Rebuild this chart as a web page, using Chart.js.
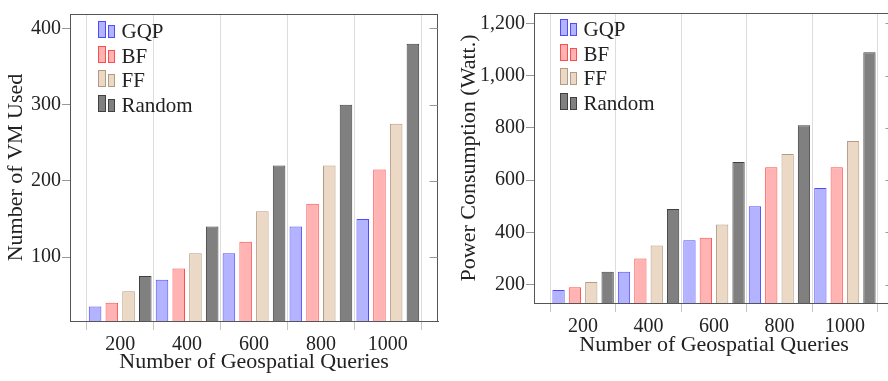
<!DOCTYPE html>
<html>
<head>
<meta charset="utf-8">
<script src="https://cdn.jsdelivr.net/npm/chart.js@4"></script>
<style>
  html, body { margin: 0; padding: 0; background: #fff; overflow: hidden; }
  #wrap { position: relative; width: 888px; height: 381px; overflow: hidden; }
  .box { position: absolute; top: 0; height: 381px; }
</style>
</head>
<body>
<div id="wrap">
  <div class="box" style="left:0;width:444px"><canvas id="vmChart"></canvas></div>
  <div class="box" style="left:444px;width:456px"><canvas id="powerChart"></canvas></div>
</div>
<script>
// values
const queries = [200, 400, 600, 800, 1000];
const seriesNames = ['GQP', 'BF', 'FF', 'Random'];

const vmGQP = [35, 70, 105, 140, 150];
const vmBF = [40, 85, 120, 170, 215];
const vmFF = [55, 105, 160, 220, 275];
const vmRandom = [75, 140, 220, 300, 380];

const powerGQP = [180, 250, 370, 500, 570];
const powerBF = [190, 300, 380, 650, 650];
const powerFF = [210, 350, 430, 700, 750];
const powerRandom = [250, 490, 670, 810, 1090];

const vmTicks = [100, 200, 300, 400];
const powerTicks = [200, 400, 600, 800, 1000, 1200];
const gridTicks = [100, 300, 500, 700, 900, 1100];

const fills = ['#b3b3ff', '#ffb3b3', '#ebd9c6', '#808080'];
const strokes = ['#4d4dff', '#ff4d4d', '#b39a82', '#404040'];
const FONT = '"Liberation Serif", "Times New Roman", serif';
const TEXT = '#222';

// legend with the little two-bar icons, drawn inside the plot area
const barLegend = {
  id: 'barLegend',
  afterDraw(chart, args, opts) {
    const { ctx, chartArea } = chart;
    ctx.save();
    ctx.font = '21px ' + FONT;
    ctx.textBaseline = 'alphabetic';
    chart.data.datasets.forEach((ds, i) => {
      const x = Math.round(chartArea.left + opts.left) + 0.5;
      const base = Math.round(chartArea.top + opts.top + i * opts.step) + 0.5;
      ctx.fillStyle = ds.backgroundColor;
      ctx.strokeStyle = ds.borderColor;
      ctx.lineWidth = 1;
      ctx.fillRect(x, base - 16, 7, 16);
      ctx.strokeRect(x, base - 16, 7, 16);
      ctx.fillRect(x + 10, base - 12, 6, 12);
      ctx.strokeRect(x + 10, base - 12, 6, 12);
      ctx.fillStyle = TEXT;
      ctx.fillText(ds.label, x + 23, base);
    });
    ctx.restore();
  }
};

// top and right edges of the axis box, with inner tick marks on the right
const frame = {
  id: 'frame',
  afterDatasetsDraw(chart) {
    const { ctx, chartArea: a, scales } = chart;
    const right = Math.round(a.right) - 0.5;
    ctx.save();
    ctx.strokeStyle = '#555';
    ctx.lineWidth = 1;
    ctx.beginPath();
    ctx.moveTo(Math.round(a.left), Math.round(a.top) + 0.5);
    ctx.lineTo(Math.round(a.right), Math.round(a.top) + 0.5);
    ctx.moveTo(right, Math.round(a.top));
    ctx.lineTo(right, Math.round(a.bottom));
    ctx.stroke();
    ctx.strokeStyle = '#999';
    ctx.beginPath();
    scales.y.ticks.forEach(t => {
      const y = Math.round(scales.y.getPixelForValue(t.value)) + 0.5;
      ctx.moveTo(right - 8, y);
      ctx.lineTo(right, y);
    });
    ctx.stroke();
    ctx.restore();
  }
};

function makeChart(id, series, cfg) {
  // the bar ruler also counts the 100-step grid ticks, so one group spans two of its slots
  const datasets = series.map((vals, i) => ({
    label: seriesNames[i],
    data: vals.map((v, j) => ({ x: queries[j], y: v })),
    backgroundColor: fills[i],
    borderColor: strokes[i],
    borderWidth: 1,
    borderSkipped: 'bottom',
    categoryPercentage: 2.0,
    barPercentage: 0.75
  }));

  return new Chart(document.getElementById(id), {
    type: 'bar',
    data: { datasets },
    plugins: [barLegend, frame],
    options: {
      responsive: true,
      maintainAspectRatio: false,
      animation: false,
      layout: { padding: { top: cfg.padTop, right: 6, left: 0, bottom: 0 } },
      plugins: {
        legend: { display: false },
        tooltip: { enabled: false },
        barLegend: { left: cfg.legendLeft, top: cfg.legendTop, step: 24.6 }
      },
      scales: {
        x: {
          type: 'linear',
          min: 50,
          max: 1150,
          offset: false,
          afterBuildTicks: s => {
            s.ticks = [...gridTicks, ...queries].sort((a, b) => a - b).map(v => ({ value: v }));
          },
          afterFit: s => { s.height = cfg.xHeight; },
          grid: {
            offset: false,
            lineWidth: 1,
            tickLength: 9,
            color: c => gridTicks.includes(c.tick.value) ? '#dcdcdc' : 'rgba(0,0,0,0)',
            tickColor: c => gridTicks.includes(c.tick.value) ? '#c4c4c4' : 'rgba(0,0,0,0)'
          },
          border: { color: '#555', width: 1 },
          ticks: {
            autoSkip: false,
            maxRotation: 0,
            padding: 3,
            color: TEXT,
            font: { family: FONT, size: 20 },
            callback: v => queries.includes(v) ? String(v) : ''
          },
          title: {
            display: true,
            text: 'Number of Geospatial Queries',
            color: TEXT,
            font: { family: FONT, size: 22 },
            padding: { top: 0, bottom: cfg.xTitlePad }
          }
        },
        y: {
          min: cfg.yMin,
          max: cfg.yMax,
          afterBuildTicks: s => { s.ticks = cfg.yTicks.map(v => ({ value: v })); },
          afterFit: s => { s.width = cfg.yWidth; },
          grid: { drawOnChartArea: false, tickLength: 8, tickColor: '#999' },
          border: { color: '#555', width: 1 },
          ticks: {
            padding: 1,
            color: TEXT,
            font: { family: FONT, size: 20 },
            callback: v => v.toLocaleString('en-US')
          },
          title: {
            display: true,
            text: cfg.yTitle,
            color: TEXT,
            font: { family: FONT, size: 22 },
            padding: { top: cfg.yTitlePad, bottom: 0 }
          }
        }
      }
    }
  });
}

makeChart('vmChart', [vmGQP, vmBF, vmFF, vmRandom], {
  yMin: 16, yMax: 419, yTicks: vmTicks, yTitle: 'Number of VM Used',
  padTop: 14, yWidth: 70, xHeight: 60, yTitlePad: 3, xTitlePad: 6,
  legendLeft: 28, legendTop: 23
});

makeChart('powerChart', [powerGQP, powerBF, powerFF, powerRandom], {
  yMin: 130, yMax: 1240, yTicks: powerTicks, yTitle: 'Power Consumption (Watt.)',
  padTop: 3, yWidth: 90, xHeight: 78, yTitlePad: 12, xTitlePad: 23,
  legendLeft: 26, legendTop: 22
});
</script>
</body>
</html>
